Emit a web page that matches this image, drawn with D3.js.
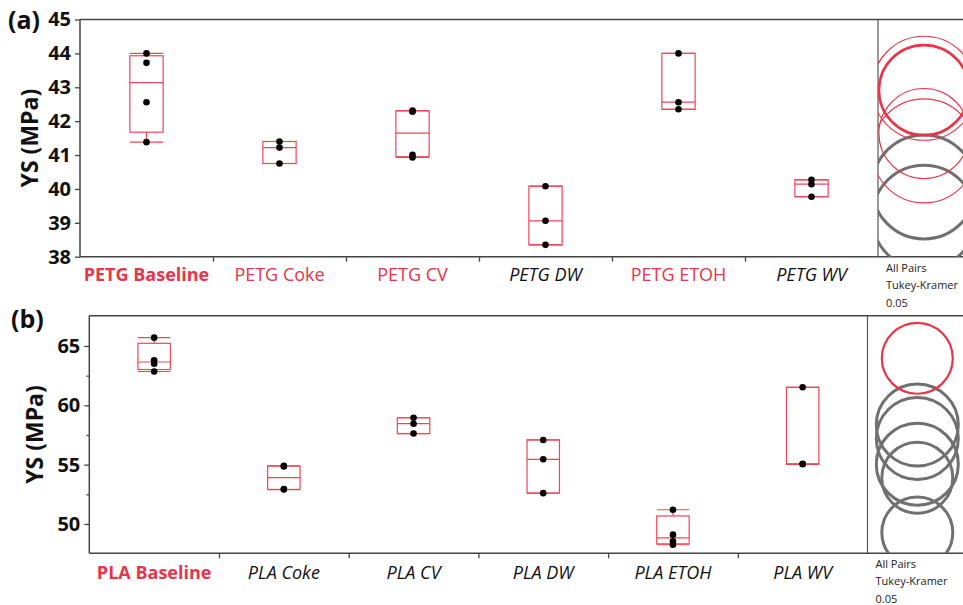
<!DOCTYPE html>
<html>
<head>
<meta charset="utf-8">
<script src="https://cdn.jsdelivr.net/npm/d3@7"></script>
<style>
  body { margin: 0; background: #fff; }
  svg { display: block; }
</style>
</head>
<body>
<div id="chart"></div>
<script>
// ---- data ----
var petgGroups = ["PETG Baseline", "PETG Coke", "PETG CV", "PETG DW", "PETG ETOH", "PETG WV"];
var petgValues = [
  [44.00, 43.72, 42.56, 41.38],
  [41.40, 41.22, 40.75],
  [42.31, 42.28, 41.01, 40.93],
  [40.08, 39.06, 38.35],
  [44.00, 42.56, 42.35],
  [40.27, 40.14, 39.77]
];
// selected = compared group, same = not significantly different, diff = significantly different
var petgKinds = ["selected", "same", "same", "diff", "same", "diff"];
var petgCircleRadius = [1.33, 1.535, 1.33, 1.535, 1.535, 1.535];
var petgTicks = [38, 39, 40, 41, 42, 43, 44, 45];

var plaGroups = ["PLA Baseline", "PLA Coke", "PLA CV", "PLA DW", "PLA ETOH", "PLA WV"];
var plaValues = [
  [65.70, 63.80, 63.50, 62.85],
  [54.90, 54.85, 52.95, 52.90],
  [58.95, 58.45, 57.62],
  [57.08, 55.45, 52.60],
  [51.20, 49.10, 48.55, 48.25],
  [61.52, 55.07, 55.03]
];
var plaKinds = ["selected", "diff", "diff", "diff", "diff", "diff"];
var plaCircleRadius = [2.99, 2.99, 3.455, 3.455, 2.99, 3.455];
var plaTicks = [50, 55, 60, 65];
var plaMinorTicks = [52.5, 57.5, 62.5];

var RED = "#ea3449";
var BOXRED = "#f0465a";
var GRAY = "#707070";
var FONT = "'Open Sans', 'Noto Sans', sans-serif";

var svg = d3.select("#chart").append("svg")
  .attr("width", 963)
  .attr("height", 605);

// JMP style quantile: position p*(n+1)
function quant(s, p) {
  var n = s.length, h = p * (n + 1);
  if (h <= 1) return s[0];
  if (h >= n) return s[n - 1];
  var lo = Math.floor(h);
  return s[lo - 1] + (h - lo) * (s[lo] - s[lo - 1]);
}

function drawPanel(cfg) {
  var g = svg.append("g");
  var n = cfg.groups.length;

  var x = d3.scaleBand().domain(cfg.groups).range([cfg.left, cfg.divider]);
  var idx = d3.scaleLinear().domain([0, n]).range([cfg.left, cfg.divider]);
  var y = d3.scaleLinear().domain(cfg.yDomain).range([cfg.bottom, cfg.top]);

  // y axis
  var ya = g.append("g")
    .attr("transform", "translate(" + cfg.left + ",0)")
    .call(d3.axisLeft(y).tickValues(cfg.ticks).tickFormat(d3.format("d")).tickSize(5).tickSizeOuter(0));
  ya.select(".domain").remove();
  ya.selectAll("line").attr("stroke", "#444").attr("stroke-width", 1.3);
  ya.selectAll("text")
    .attr("font-family", FONT)
    .attr("font-size", 20)
    .attr("font-weight", "bold")
    .attr("fill", "#111")
    .attr("dx", "-1");

  if (cfg.minorTicks) {
    var ym = g.append("g")
      .attr("transform", "translate(" + cfg.left + ",0)")
      .call(d3.axisLeft(y).tickValues(cfg.minorTicks).tickSize(3).tickFormat(""));
    ym.select(".domain").remove();
    ym.selectAll("line").attr("stroke", "#444").attr("stroke-width", 1.2);
  }

  // x axis ticks between groups
  var xa = g.append("g")
    .attr("transform", "translate(0," + cfg.bottom + ")")
    .call(d3.axisBottom(idx).tickValues(d3.range(1, n)).tickSize(5).tickFormat(""));
  xa.select(".domain").remove();
  xa.selectAll("line").attr("stroke", "#444").attr("stroke-width", 1.3);

  // frame
  g.append("line").attr("x1", cfg.left).attr("x2", 970).attr("y1", cfg.top).attr("y2", cfg.top)
    .attr("stroke", "#444").attr("stroke-width", 1.5);
  g.append("line").attr("x1", cfg.left).attr("x2", 970).attr("y1", cfg.bottom).attr("y2", cfg.bottom)
    .attr("stroke", "#444").attr("stroke-width", 1.5);
  g.append("line").attr("x1", cfg.left).attr("x2", cfg.left).attr("y1", cfg.top).attr("y2", cfg.bottom)
    .attr("stroke", "#444").attr("stroke-width", 1.5);
  g.append("line").attr("x1", cfg.divider).attr("x2", cfg.divider).attr("y1", cfg.top).attr("y2", cfg.bottom)
    .attr("stroke", "#555").attr("stroke-width", 1.2);

  // boxes
  var bw = x.bandwidth() * 0.25;
  cfg.groups.forEach(function(name, i) {
    var s = cfg.values[i].slice().sort(d3.ascending);
    var cx = x(name) + x.bandwidth() / 2;
    var q1 = quant(s, 0.25), med = quant(s, 0.5), q3 = quant(s, 0.75);
    var lo = s[0], hi = s[s.length - 1];
    var bg = g.append("g").attr("stroke", BOXRED).attr("stroke-width", 1.2).attr("fill", "none");
    bg.append("rect")
      .attr("x", cx - bw / 2).attr("width", bw)
      .attr("y", y(q3)).attr("height", y(q1) - y(q3));
    bg.append("line").attr("x1", cx - bw / 2).attr("x2", cx + bw / 2)
      .attr("y1", y(med)).attr("y2", y(med));
    bg.append("line").attr("x1", cx).attr("x2", cx).attr("y1", y(q3)).attr("y2", y(hi));
    bg.append("line").attr("x1", cx).attr("x2", cx).attr("y1", y(q1)).attr("y2", y(lo));
    bg.append("line").attr("x1", cx - bw / 2).attr("x2", cx + bw / 2).attr("y1", y(hi)).attr("y2", y(hi));
    bg.append("line").attr("x1", cx - bw / 2).attr("x2", cx + bw / 2).attr("y1", y(lo)).attr("y2", y(lo));

    g.selectAll(null).data(s).enter().append("circle")
      .attr("cx", cx).attr("cy", function(d) { return y(d); })
      .attr("r", 3.3).attr("fill", "#000");

    var kind = cfg.kinds[i];
    g.append("text")
      .attr("x", cx).attr("y", cfg.labelY)
      .attr("text-anchor", "middle")
      .attr("font-family", FONT)
      .attr("font-size", 18)
      .attr("font-weight", kind == "selected" ? "bold" : "normal")
      .attr("font-style", kind == "diff" ? "italic" : "normal")
      .attr("fill", kind == "diff" ? "#111" : RED)
      .text(name);
  });

  // comparison circles
  var clipId = "clip" + cfg.name;
  svg.append("clipPath").attr("id", clipId).append("rect")
    .attr("x", cfg.divider).attr("y", cfg.top)
    .attr("width", 963 - cfg.divider).attr("height", cfg.bottom - cfg.top);
  var cg = g.append("g").attr("clip-path", "url(#" + clipId + ")").attr("fill", "none");
  var order = d3.range(n).sort(function(a, b) {
    var ra = cfg.kinds[a] == "diff" ? 0 : cfg.kinds[a] == "same" ? 1 : 2;
    var rb = cfg.kinds[b] == "diff" ? 0 : cfg.kinds[b] == "same" ? 1 : 2;
    return ra - rb;
  });
  order.forEach(function(i) {
    var m = d3.mean(cfg.values[i]);
    var r = y(m) - y(m + cfg.radius[i]);
    var kind = cfg.kinds[i];
    cg.append("circle")
      .attr("cx", cfg.circleX).attr("cy", y(m)).attr("r", r)
      .attr("stroke", kind == "diff" ? GRAY : RED)
      .attr("stroke-width", kind == "diff" ? 3 : kind == "selected" ? (cfg.name == "a" ? 2.6 : 2.2) : 1.1);
  });

  // test label
  ["All Pairs", "Tukey-Kramer", "0.05"].forEach(function(t, k) {
    g.append("text")
      .attr("x", cfg.divider + 8).attr("y", cfg.noteY + k * 17.3)
      .attr("font-family", FONT).attr("font-size", 11)
      .attr("fill", "#222")
      .text(t);
  });

  // axis title and panel letter
  g.append("text")
    .attr("transform", "translate(" + cfg.titleX + "," + ((cfg.top + cfg.bottom) / 2) + ") rotate(-90)")
    .attr("text-anchor", "middle").attr("dominant-baseline", "central")
    .attr("font-family", FONT).attr("font-size", 23).attr("font-weight", "bold")
    .attr("fill", "#111")
    .text("YS (MPa)");
  g.append("text")
    .attr("x", cfg.letterX).attr("y", cfg.letterY)
    .attr("font-family", FONT).attr("font-size", 25).attr("font-weight", "bold")
    .attr("fill", "#111")
    .text(cfg.letter);
}

drawPanel({
  name: "a", letter: "(a)", letterX: 8, letterY: 29,
  groups: petgGroups, values: petgValues, kinds: petgKinds, radius: petgCircleRadius,
  ticks: petgTicks, yDomain: [38, 45],
  left: 80, divider: 878, top: 19.5, bottom: 256.7,
  labelY: 281, circleX: 924, noteY: 272, titleX: 29
});

drawPanel({
  name: "b", letter: "(b)", letterX: 11, letterY: 328,
  groups: plaGroups, values: plaValues, kinds: plaKinds, radius: plaCircleRadius,
  ticks: plaTicks, minorTicks: plaMinorTicks, yDomain: [47.53, 67.55],
  left: 89.3, divider: 867.5, top: 315.7, bottom: 553.3,
  labelY: 579, circleX: 917.3, noteY: 568, titleX: 34
});
</script>
</body>
</html>
